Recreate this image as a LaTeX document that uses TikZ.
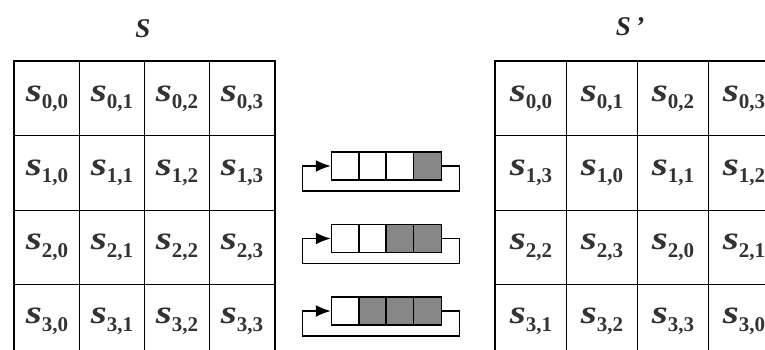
\documentclass[tikz,border=0pt]{standalone}
\usepackage{fontspec}
\setmainfont{Liberation Serif}
\usepackage{graphicx}
\usetikzlibrary{matrix,positioning,calc,arrows.meta}
\definecolor{regshade}{RGB}{135,135,135}
\newcommand{\sv}[1]{{\fontsize{33}{33}\selectfont\bfseries\itshape\scalebox{1.25}[1]{s}}\raisebox{-7.5pt}{\fontsize{21}{21}\selectfont\bfseries #1}}

\begin{document}
\begin{tikzpicture}[
x=1pt,y=1pt,
state/.style={
  matrix of nodes,
  nodes={
    draw,
    line width=1pt,
    inner sep=0pt,
    outer sep=0pt,
    text=black!80,
    minimum height=74.3pt
    },
  inner sep=0pt,
  outer sep=0pt,
  column sep=-1pt,
  row sep=-1pt
  },
reg/.style={
  draw,
  line width=1.5pt,
  inner sep=0pt,
  minimum width=28.25pt,
  minimum height=28pt,
  fill=white
  },
title/.style={
  font=\fontsize{27}{27}\selectfont\bfseries\itshape,
  text=black!85
  },
>={Latex[length=15pt,width=12pt]}
]
\useasboundingbox (0,0) rectangle (765,349);
% state before the shift
\matrix[state,nodes={minimum width=65pt},anchor=north west] (smat) at (14,288)
{
\sv{0,0} & \sv{0,1} & \sv{0,2} & \sv{0,3} \\
\sv{1,0} & \sv{1,1} & \sv{1,2} & \sv{1,3} \\
\sv{2,0} & \sv{2,1} & \sv{2,2} & \sv{2,3} \\
\sv{3,0} & \sv{3,1} & \sv{3,2} & \sv{3,3} \\
};
\draw[line width=2.5pt] (smat.north west) rectangle (smat.south east);
\node[title] (slabel) at (143,320) {S};
% state after the shift
\matrix[state,nodes={minimum width=71pt},anchor=north west] (smatp) at (495,288)
{
\sv{0,0} & \sv{0,1} & \sv{0,2} & \sv{0,3} \\
\sv{1,3} & \sv{1,0} & \sv{1,1} & \sv{1,2} \\
\sv{2,2} & \sv{2,3} & \sv{2,0} & \sv{2,1} \\
\sv{3,1} & \sv{3,2} & \sv{3,3} & \sv{3,0} \\
};
\draw[line width=2.5pt] (smatp.north west) rectangle (smatp.south east);
\node[title] (splabel) at (630,322) {S\,'};
% rotating registers
\foreach \r/\y/\g in {1/183/4,2/110.5/3,3/38/2}
{
  \foreach \c in {1,...,4}
  {
    \ifnum\c<\g
      \node[reg] (r\r-\c) at ({332+27.25*(\c-0.5)},\y) {};
    \else
      \node[reg,fill=regshade] (r\r-\c) at ({332+27.25*(\c-0.5)},\y) {};
    \fi
  }
  \draw[->,line width=1.5pt] (r\r-4.east) -- ++(17,0) -- ++(0,-25) -- ++(-157,0) -- ++(0,25) -- (r\r-1.west);
}
\end{tikzpicture}
\end{document}
